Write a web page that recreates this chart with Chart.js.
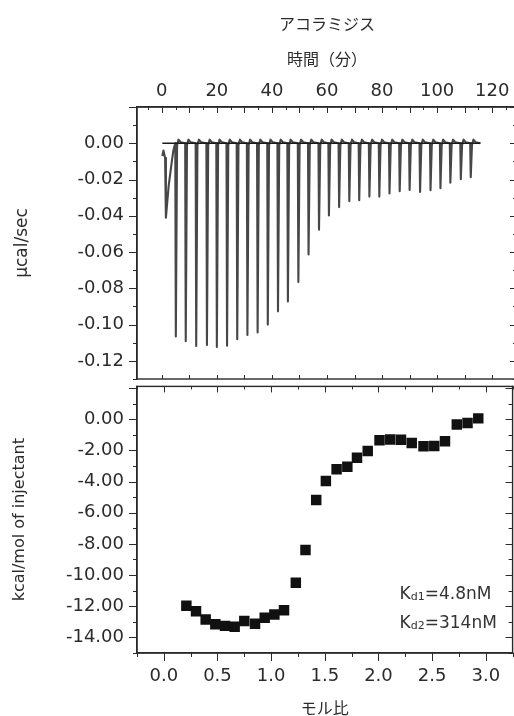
<!DOCTYPE html>
<html>
<head>
<meta charset="utf-8">
<title>アコラミジス ITC</title>
<script src="https://cdn.jsdelivr.net/npm/chart.js@4.4.1/dist/chart.umd.min.js"></script>
<style>
 html, body { margin: 0; padding: 0; background: #fff; overflow: hidden; }
 #wrap { position: relative; width: 520px; height: 716px; }
 #rawChart { position: absolute; left: 0; top: 0; }
 #heatChart { position: absolute; left: 0; top: 379px; }
</style>
</head>
<body>
<div id="wrap">
 <canvas id="rawChart" width="520" height="380"></canvas>
 <canvas id="heatChart" width="520" height="337"></canvas>
</div>
<script>
'use strict';

/*
Data
*/

// top panel: raw power trace, time in minutes
const firstInjectionTimes = [0.2, 0.6, 1.2, 1.5, 2.5, 3.6, 4.2]
const firstInjectionPower = [-0.007, -0.004, -0.008, -0.041, -0.0235, -0.0106, -0.004]
const injectionTimes = [5.1, 8.7, 12.5, 16.4, 20.0, 23.7, 27.4, 31.1, 34.8, 38.5,
 42.2, 45.8, 49.6, 53.3, 57.1, 60.7, 64.4, 68.1, 71.7, 75.4,
 79.0, 82.7, 86.4, 90.0, 93.8, 97.6, 101.2, 104.8, 108.6, 112.2]
const peakPower = [-0.1065, -0.1092, -0.1118, -0.1112, -0.1123, -0.1116, -0.1081, -0.1057, -0.1043, -0.1000,
 -0.0927, -0.0872, -0.0765, -0.0613, -0.0477, -0.0398, -0.0352, -0.0319, -0.0314, -0.0294,
 -0.0294, -0.0277, -0.0264, -0.0257, -0.0268, -0.0259, -0.0248, -0.0218, -0.0198, -0.0187]
const baselineTimes = [0.2, 115.7]
const baselinePower = [0, 0]

// bottom panel: integrated heat per injection
const molarRatio = [0.21, 0.30, 0.39, 0.48, 0.57, 0.66, 0.75, 0.85, 0.94, 1.03,
 1.12, 1.23, 1.32, 1.42, 1.51, 1.61, 1.71, 1.80, 1.90, 2.01,
 2.11, 2.21, 2.31, 2.42, 2.52, 2.62, 2.73, 2.83, 2.93]
const injectantHeat = [-11.97, -12.32, -12.85, -13.16, -13.26, -13.31, -12.95, -13.12, -12.74, -12.53,
 -12.26, -10.49, -8.40, -5.18, -3.97, -3.22, -3.05, -2.47, -2.05, -1.36,
 -1.30, -1.32, -1.53, -1.74, -1.72, -1.42, -0.34, -0.25, 0.05]

// tick labels
const timeTicks = [0, 20, 40, 60, 80, 100, 120]
const powerTicks = [0, -0.02, -0.04, -0.06, -0.08, -0.10, -0.12]
const ratioTicks = [0, 0.5, 1.0, 1.5, 2.0, 2.5, 3.0]
const heatTicks = [0, -2, -4, -6, -8, -10, -12, -14]

// dissociation constants shown in the corner
const kdSubs = ['d1', 'd2']
const kdValues = ['=4.8nM', '=314nM']

/*
Styles
*/

const textColor = '#2b2b2b'
const frameColor = '#2a2a2a'
const latinFont = "'DejaVu Sans', sans-serif"
const jpFont = "'Noto Sans CJK JP', sans-serif"
const tickFont = { family: latinFont, size: 18 }

/*
Helpers
*/

// build the raw trace: the first (small) injection, then one sharp peak per injection
const buildTrace = () => {
 const points = firstInjectionTimes.map((t, i) => ({ x: t, y: firstInjectionPower[i] }))
 injectionTimes.forEach((t, i) => {
  points.push({ x: t - 0.2, y: 0 })
  points.push({ x: t, y: peakPower[i] })
  points.push({ x: t + 0.45, y: -0.001 })
  points.push({ x: t + 1.0, y: 0.002 })
  points.push({ x: t + 1.8, y: 0.0005 })
 })
 points.push({ x: baselineTimes[1], y: 0 })
 return points
}

// frame round the chart area plus inward / outward tick marks taken from the scales
const frameTicks = {
 id: 'frameTicks',
 afterDraw(chart, args, opts) {
  const ctx = chart.ctx
  const area = chart.chartArea
  const w = 1.4
  ctx.save()
  ctx.fillStyle = frameColor
  // four edges as thin filled bars
  ctx.fillRect(area.left - w / 2, area.top - w / 2, area.right - area.left + w, w)
  ctx.fillRect(area.left - w / 2, area.bottom - w / 2, area.right - area.left + w, w)
  ctx.fillRect(area.left - w / 2, area.top - w / 2, w, area.bottom - area.top + w)
  ctx.fillRect(area.right - w / 2, area.top - w / 2, w, area.bottom - area.top + w)
  ctx.strokeStyle = frameColor
  ctx.lineWidth = 1
  opts.sets.forEach(set => {
   const scale = chart.scales[set.axis]
   const edge = area[set.edge]
   const first = Math.ceil(scale.min / set.step - 1e-6)
   const last = Math.floor(scale.max / set.step + 1e-6)
   for (let n = first; n <= last; n++) {
    const v = n * set.step
    const r = v / set.major
    const len = Math.abs(r - Math.round(r)) < 1e-6 ? set.long : set.short
    const p = Math.round(scale.getPixelForValue(v)) + 0.5
    ctx.beginPath()
    if (scale.isHorizontal()) {
     ctx.moveTo(p, edge)
     ctx.lineTo(p, edge + set.dir * len)
    } else {
     ctx.moveTo(edge, p)
     ctx.lineTo(edge + set.dir * len, p)
    }
    ctx.stroke()
   }
  })
  ctx.restore()
 }
}

// K with a subscript, e.g. Kd1=4.8nM
const kdLabels = {
 id: 'kdLabels',
 afterDraw(chart, args, opts) {
  if (!opts.show) return
  const { ctx, chartArea } = chart
  ctx.save()
  ctx.fillStyle = '#333'
  ctx.textBaseline = 'alphabetic'
  kdSubs.forEach((sub, i) => {
   let x = chartArea.right - 113
   const y = chartArea.bottom - 54 + i * 29
   ctx.font = `17px ${latinFont}`
   ctx.fillText('K', x, y)
   x += ctx.measureText('K').width
   ctx.font = `11px ${latinFont}`
   ctx.fillText(sub, x, y + 1)
   x += ctx.measureText(sub).width
   ctx.font = `17px ${latinFont}`
   ctx.fillText(kdValues[i], x, y)
  })
  ctx.restore()
 }
}

// fixed axis box size, and no extra room for half labels at the ends
const fixSize = (prop, size) => scale => {
 scale[prop] = size
 scale.paddingTop = 0
 scale.paddingBottom = 0
 scale.paddingLeft = 0
 scale.paddingRight = 0
}

// shared pieces of a scale config
const plainAxis = (ticks, fmt, padding) => ({
 type: 'linear',
 grid: { display: false, drawTicks: false },
 border: { display: true, color: frameColor, width: 1.4 },
 afterBuildTicks: scale => { scale.ticks = ticks.map(value => ({ value })) },
 ticks: { padding, color: textColor, font: tickFont, autoSkip: false, maxRotation: 0, callback: fmt }
})

/*
Top chart: raw heat flow
*/

const rawChart = new Chart(document.getElementById('rawChart'), {
 type: 'scatter',
 data: {
  datasets: [
   {
    data: baselineTimes.map((t, i) => ({ x: t, y: baselinePower[i] })),
    showLine: true, borderColor: '#1a1a1a', borderWidth: 1.6, pointRadius: 0
   },
   {
    data: buildTrace(),
    showLine: true, borderColor: '#474747', borderWidth: 2.1, pointRadius: 0,
    borderJoinStyle: 'round', tension: 0
   }
  ]
 },
 options: {
  responsive: false,
  animation: false,
  layout: { padding: { left: 0, top: 0, right: 3, bottom: 1 } },
  plugins: {
   legend: { display: false },
   tooltip: { enabled: false },
   kdLabels: { show: false },
   frameTicks: {
    sets: [
     { axis: 'x', edge: 'top', step: 5, major: 10, dir: 1, long: 6, short: 3 },
     { axis: 'x', edge: 'bottom', step: 10, major: 10, dir: -1, long: 4, short: 4 },
     { axis: 'y', edge: 'left', step: 0.01, major: 0.02, dir: -1, long: 8, short: 4 },
     { axis: 'y', edge: 'right', step: 0.01, major: 0.02, dir: -1, long: 7, short: 4 }
    ]
   }
  },
  scales: {
   x: {
    ...plainAxis(timeTicks, v => String(v), 5),
    position: 'top', min: -9, max: 129,
    afterFit: fixSize('height', 107),
    title: {
     display: true, text: ['アコラミジス', '時間（分）'], color: textColor,
     font: { family: jpFont, size: 16, lineHeight: 2.2 }, padding: { top: 6.5, bottom: 0 }
    }
   },
   y: {
    ...plainAxis(powerTicks, v => v.toFixed(2), 13),
    position: 'left', min: -0.13, max: 0.02,
    afterFit: fixSize('width', 137),
    title: {
     display: true, text: 'μcal/sec', color: textColor,
     font: { family: latinFont, size: 17 }, padding: { top: 12, bottom: 0 }
    }
   }
  }
 },
 plugins: [frameTicks, kdLabels]
})

/*
Bottom chart: integrated heats
*/

const heatChart = new Chart(document.getElementById('heatChart'), {
 type: 'scatter',
 data: {
  datasets: [{
   data: molarRatio.map((r, i) => ({ x: r, y: injectantHeat[i] })),
   pointStyle: 'rect', pointRadius: 7.4, backgroundColor: '#111', borderWidth: 0
  }]
 },
 options: {
  responsive: false,
  animation: false,
  layout: { padding: { left: 0, top: 1, right: 3, bottom: 0 } },
  plugins: {
   legend: { display: false },
   tooltip: { enabled: false },
   kdLabels: { show: true },
   frameTicks: {
    sets: [
     { axis: 'x', edge: 'top', step: 0.25, major: 0.5, dir: 1, long: 6, short: 3 },
     { axis: 'x', edge: 'bottom', step: 0.25, major: 0.5, dir: 1, long: 8, short: 4 },
     { axis: 'y', edge: 'left', step: 1, major: 2, dir: -1, long: 8, short: 4 },
     { axis: 'y', edge: 'right', step: 1, major: 2, dir: -1, long: 7, short: 4 }
    ]
   }
  },
  scales: {
   x: {
    ...plainAxis(ratioTicks, v => v.toFixed(1), 13),
    position: 'bottom', min: -0.25, max: 3.25,
    afterFit: fixSize('height', 63),
    title: {
     display: true, text: 'モル比', color: textColor,
     font: { family: jpFont, size: 16, lineHeight: 1 }, padding: { top: 0, bottom: 0 }
    }
   },
   y: {
    ...plainAxis(heatTicks, v => v.toFixed(2), 13),
    position: 'left', min: -15, max: 2.1,
    afterFit: fixSize('width', 137),
    title: {
     display: true, text: 'kcal/mol of injectant', color: textColor,
     font: { family: latinFont, size: 16 }, padding: { top: 10.4, bottom: 0 }
    }
   }
  }
 },
 plugins: [frameTicks, kdLabels]
})
</script>
</body>
</html>
